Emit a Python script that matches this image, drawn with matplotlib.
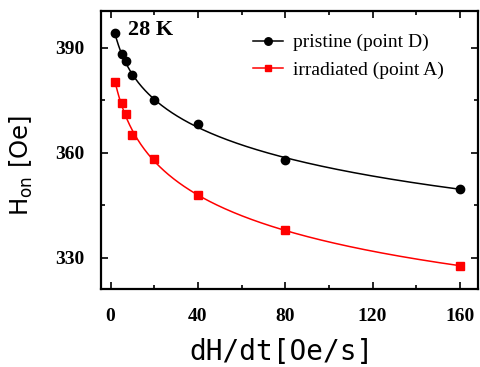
import numpy as np
import matplotlib
matplotlib.use("Agg")
import matplotlib.pyplot as plt
from matplotlib.ticker import MultipleLocator

rate = [2, 5, 7, 10, 20, 40, 80, 160]
pristine = [394.1, 388.1, 386.1, 382.1, 375.0, 368.1, 357.9, 349.8]
irradiated = [380.2, 374.1, 371.0, 365.0, 358.1, 347.9, 337.9, 327.7]
label_pristine = "pristine (point D)"
label_irr = "irradiated (point A)"
temp_label = "28 K"
xticks = [0, 40, 80, 120, 160]
yticks = [330, 360, 390]


def fit_curve(x, y, deg=3):
    x = np.asarray(x, float)
    y = np.asarray(y, float)
    p = np.polyfit(np.log(x), y, deg)
    xs = np.linspace(x.min(), x.max(), 400)
    return xs, np.polyval(p, np.log(xs))


fig = plt.figure(figsize=(4.8, 3.67), dpi=100)
ax = fig.add_axes([0.2104, 0.2125, 0.786, 0.7575])

for y, col, mk, ms, lab in [(pristine, "black", "o", 6, label_pristine),
                            (irradiated, "#ff0000", "s", 5.5, label_irr)]:
    xs, ys = fit_curve(rate, y)
    ax.plot(xs, ys, color=col, lw=1.1)
    ax.plot(rate, y, linestyle="none", marker=mk, ms=ms, color=col)
    ax.plot([], [], color=col, marker=mk, ms=ms * 0.9, lw=1.1, label=lab)

ax.set_xlim(-4.4, 168.4)
ax.set_ylim(321.1, 400.5)
ax.set_xticks(xticks)
ax.set_yticks(yticks)
ax.xaxis.set_minor_locator(MultipleLocator(20))
ax.yaxis.set_minor_locator(MultipleLocator(15))
ax.tick_params(which="both", direction="in", top=True, right=True, width=1.2)
ax.tick_params(which="major", length=5)
ax.tick_params(which="minor", length=3)
for s in ax.spines.values():
    s.set_linewidth(1.6)
for lab in ax.get_xticklabels() + ax.get_yticklabels():
    lab.set_fontfamily("Liberation Serif")
    lab.set_fontweight("bold")
    lab.set_fontsize(14)
ax.tick_params(axis="x", pad=14)
ax.tick_params(axis="y", pad=12)

ax.set_xlabel("dH/dt[Oe/s]", fontfamily="DejaVu Sans Mono", fontsize=20)
ax.xaxis.label.set_va("center")
ax.xaxis.set_label_coords((282 - 101) / 377.3, (289 - 352) / 278)
ax.set_ylabel(r"H$_{\mathregular{on}}$ [Oe]", fontfamily="DejaVu Sans", fontsize=17.5)
ax.yaxis.label.set_va("center")
ax.yaxis.set_label_coords((21 - 101) / 377.3, (289 - 166) / 278)

ax.text(0.071, 0.93, temp_label, transform=ax.transAxes, fontfamily="Liberation Serif",
        fontweight="bold", fontsize=16, va="center", ha="left")

leg = ax.legend(loc="upper left", bbox_to_anchor=(0.402, 0.918), frameon=False,
                borderaxespad=0, borderpad=0,
                prop={"family": "Liberation Serif", "size": 14}, handlelength=1.55,
                handletextpad=0.5, labelspacing=0.5)

fig.savefig("out.png", dpi=100)
